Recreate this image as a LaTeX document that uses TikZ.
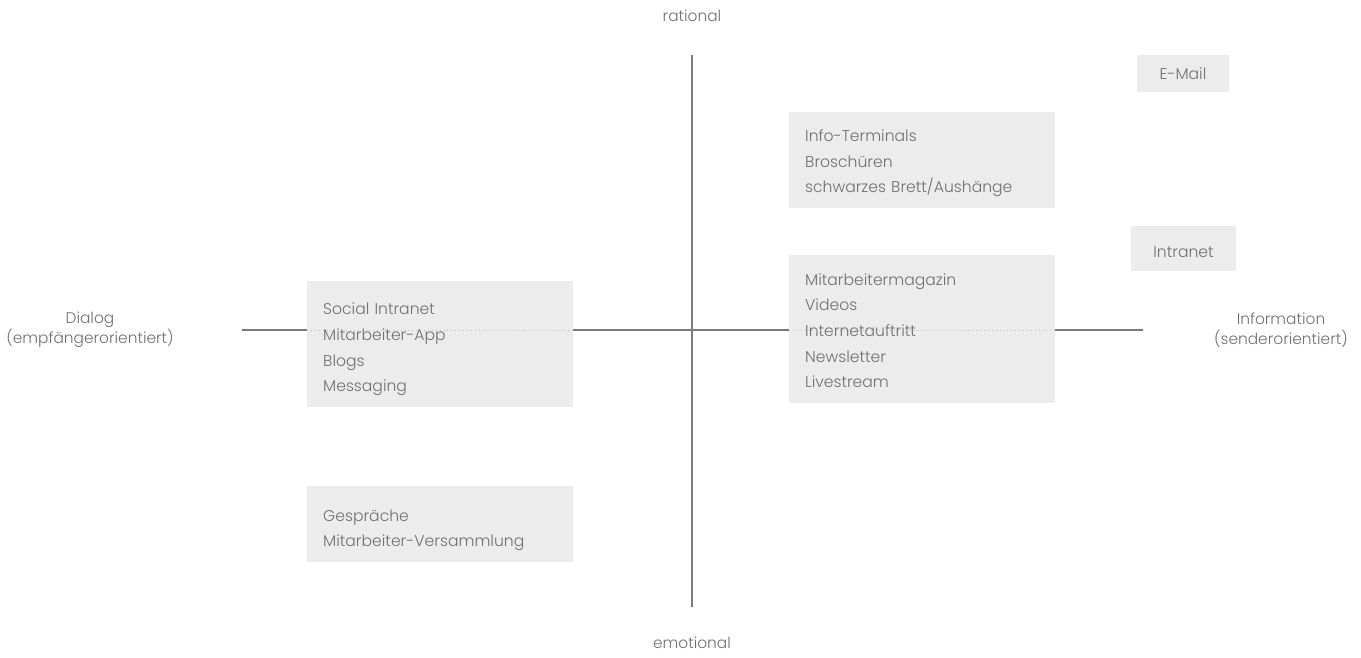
\documentclass[tikz,border=0pt]{standalone}
\usepackage{fontspec}
\setmainfont{Poppins}[UprightFont=* Light]
\definecolor{boxgray}{HTML}{ECECEC}
\definecolor{textgray}{HTML}{707070}
\definecolor{axisgray}{HTML}{7A7A7A}
\definecolor{dotgray}{HTML}{BDBDBD}
\tikzset{
  chip/.style={fill=boxgray, text=textgray, inner sep=0pt,
    font=\fontsize{15.6}{25.6}\selectfont},
  % #1 = room above the first line, the last line sits 15.5pt above the bottom
  channel/.style={chip, anchor=north west, align=left, inner xsep=16pt, text width=234pt,
    execute at begin node={\rule{0pt}{#1}},
    execute at end node={\rule[-15.5pt]{0pt}{15.5pt}}},
  tag/.style={text=textgray, align=center, inner sep=0pt, font=\fontsize{15.4}{20}\selectfont},
  axis/.style={draw=axisgray, line width=1.2pt},
  crossing/.style={draw=dotgray, line width=0.9pt, dash pattern=on 0.9pt off 3pt}
}
\begin{document}
\begin{tikzpicture}[x=1pt,y=-1pt]
\useasboundingbox (0,0) rectangle (1361,657);
% axis ends
\coordinate (top) at (692,55);
\coordinate (bottom) at (692,607);
\coordinate (left) at (242,330);
\coordinate (right) at (1143,330);
\draw[axis] (top) -- (bottom);
\draw[axis] (left) -- (right);
% axis labels
\node[tag] (rational) at (692,16) {rational};
\node[tag] (emotional) at (692,643) {emotional};
\node[tag] (dialog) at (90,330) {Dialog\\(empfängerorientiert)};
\node[tag] (info) at (1281,330) {Information\\(senderorientiert)};
% channels, dialog side
\node[channel=33.7pt] (social) at (307,281)
  {Social Intranet\\Mitarbeiter-App\\Blogs\\Messaging};
\node[channel=34.9pt] (talk) at (307,486)
  {Gespräche\\Mitarbeiter-Versammlung};
% channels, information side
\node[channel=29.3pt] (print) at (789,112)
  {Info-Terminals\\Broschüren\\schwarzes Brett/Aushänge};
\node[channel=30.1pt] (media) at (789,255)
  {Mitarbeitermagazin\\Videos\\Internetauftritt\\Newsletter\\Livestream};
\node[chip, anchor=base, minimum width=92pt, text height=24pt, text depth=13pt] (mail) at (1183,79) {E-Mail};
\node[chip, anchor=base, minimum width=105pt, text height=31pt, text depth=14pt] (intranet) at (1183.5,257) {Intranet};
% axis running through the boxes
\draw[crossing] (social.west |- left) -- (social.east |- left);
\draw[crossing] (media.west |- left) -- (media.east |- left);
\end{tikzpicture}
\end{document}
